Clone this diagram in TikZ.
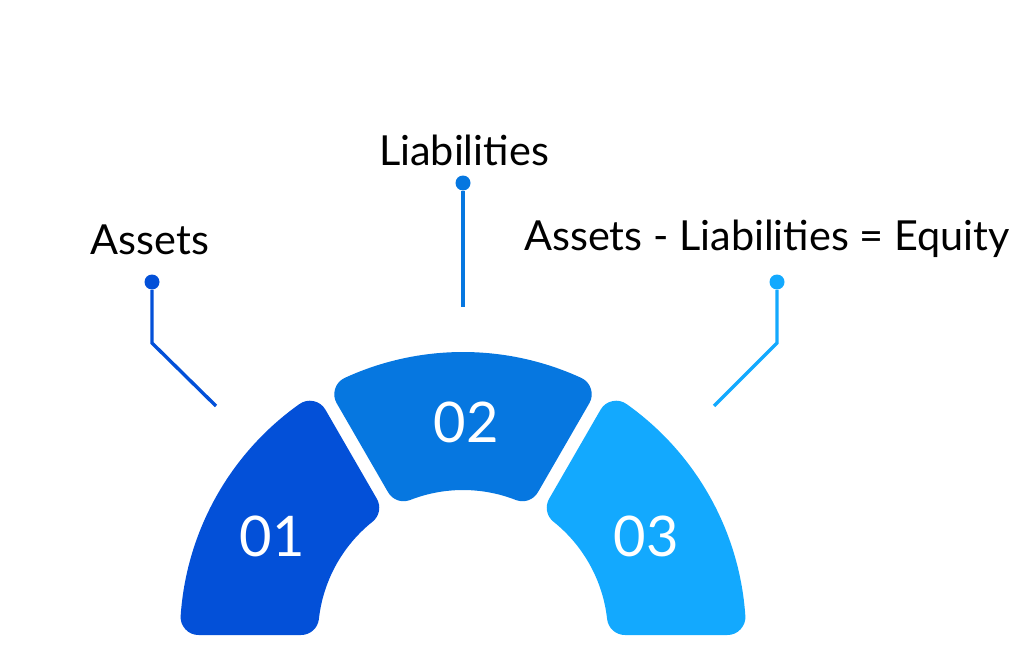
\documentclass[tikz,border=0pt]{standalone}
\usepackage{fontspec}
\setmainfont{Lato}
\usetikzlibrary{calc, positioning}
\definecolor{segA}{HTML}{0350D8}
\definecolor{segB}{HTML}{0677E0}
\definecolor{segC}{HTML}{13A9FE}
\tikzset{
    % rounded ring pieces: fill plus a thick round-joined outline
    segment/.style = {line width=18pt, line join=round},
    number/.style = {text=white, font=\fontsize{28}{32}\selectfont},
    toptext/.style = {text=black, font=\fontsize{20.7}{24}\selectfont, anchor=base, inner sep=0pt},
    dotmark/.style = {circle, inner sep=0pt, minimum size=7.5pt},
    leader/.style = {line width=1.7pt}
}

\begin{document}
\begin{tikzpicture}[x=0.5pt, y=0.5pt]
\useasboundingbox (0,0) rectangle (1024,650);
\coordinate (C) at (463,15);

\foreach \lo/\hi/\dlo/\dhi/\col/\num in {120/180/24.5/18/segA/01, 60/120/24.5/24.5/segB/02, 0/60/18/24.5/segC/03}{
  \filldraw[segment, fill=\col, draw=\col]
    ($(C)+({\lo+asin(\dlo/265)}:265)$)
    arc[start angle={\lo+asin(\dlo/265)}, end angle={\hi-asin(\dhi/265)}, radius=265]
    -- ($(C)+({\hi-asin(\dhi/163)}:163)$)
    arc[start angle={\hi-asin(\dhi/163)}, end angle={\lo+asin(\dlo/163)}, radius=163]
    -- cycle;
}

\node[number] (n01) at (272,114) {01};
\node[number] (n02) at (466,228) {02};
\node[number] (n03) at (646,114) {03};

\node[toptext] (assets) at (150,396) {Assets};
\node[toptext] (liab) at (464,485) {Liabilities};
\node[toptext] (equity) at (767,400) {Assets - Liabilities = Equity};

\node[dotmark, fill=segA] (dotA) at (152,368) {};
\node[dotmark, fill=segB] (dotB) at (463,467) {};
\node[dotmark, fill=segC] (dotC) at (777,368) {};
\coordinate (bendA) at (152,307);
\coordinate (endA) at (216,244);
\coordinate (endB) at (463,343);
\coordinate (bendC) at (777,307);
\coordinate (endC) at (714,244);

\draw[leader, segA] (dotA) -- (bendA) -- (endA);
\draw[leader, segB] (dotB) -- (endB);
\draw[leader, segC] (dotC) -- (bendC) -- (endC);

\end{tikzpicture}
\end{document}
